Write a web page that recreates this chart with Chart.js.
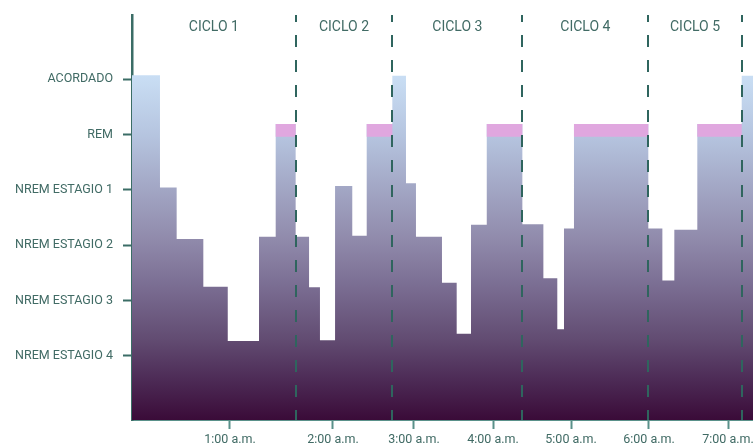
<!DOCTYPE html>
<html><head><meta charset="utf-8">
<script src="https://cdn.jsdelivr.net/npm/chart.js@4"></script>
<style>html,body{margin:0;padding:0;background:#fff;}canvas{display:block;}</style>
</head><body>
<canvas id="c" width="753" height="445"></canvas>
<script>
// ---- data ----
const stageLabels = ['NREM ESTAGIO 4','NREM ESTAGIO 3','NREM ESTAGIO 2','NREM ESTAGIO 1','REM','ACORDADO'];
const stageTicks = [1, 2, 3, 4, 5, 6];
// minutes since start of the night (illustration scale)
const segStart = [0,21.3,34.0,54.3,72.9,96.7,109.4,124.6,134.8,143.1,154.6,167.7,178.7,198.2,208.6,216.2,236.0,247.2,258.1,270.1,297.2,313.2,323.8,328.9,336.5,393.1,403.8,412.9,430.4,464.2];
const segLevel = [6.07,4.04,3.11,2.25,1.27,3.15,5.19,3.15,2.24,1.28,4.07,3.17,5.19,6.06,4.12,3.15,2.32,1.40,3.37,5.19,3.38,2.40,1.48,3.30,5.19,3.30,2.36,3.28,5.19,6.06];
const sleepEnd = 472.8;
const remStart = [109.4,178.7,270.1,336.5,430.4];
const remEnd   = [124.6,198.2,297.2,393.1,464.2];
const remLow = 4.96, remHigh = 5.19;
const cycleNames  = ['CICLO 1','CICLO 2','CICLO 3','CICLO 4','CICLO 5'];
const cycleBounds = [0,124.6,198.2,297.2,393.1,464.2];
const timeTicks  = [74.6,153.0,214.7,274.9,334.3,393.6,453.8];
const timeLabels = ['1:00 a.m.','2:00 a.m.','3:00 a.m.','4:00 a.m.','5:00 a.m.','6:00 a.m.','7:00 a.m.'];
const yMin = -0.16, yMax = 7.16;

// ---- build datasets ----
const hypno = segStart.map((x,i)=>({x:x, y:segLevel[i]}));
hypno.push({x:sleepEnd, y:segLevel[segLevel.length-1]});
const remMid = (remLow+remHigh)/2;
const remPts = [];
remStart.forEach((s,i)=>{
  remPts.push({x:s,y:remMid},{x:remEnd[i],y:remMid});
  if(i<remStart.length-1) remPts.push({x:(remEnd[i]+remStart[i+1])/2,y:null});
});

const TEAL='#3b6d66', TXT='#416b65';
const FONT='Roboto';

function gradientFill(ctx){
  const chart=ctx.chart, area=chart.chartArea;
  if(!area) return '#9590ae';
  const g=chart.ctx.createLinearGradient(0,area.top,0,area.bottom);
  g.addColorStop(0,'#d4e8fc');
  g.addColorStop(0.15,'#c9def4');
  g.addColorStop(0.30,'#b5c4df');
  g.addColorStop(0.43,'#a2a6c4');
  g.addColorStop(0.555,'#908aab');
  g.addColorStop(0.67,'#7a6d92');
  g.addColorStop(0.80,'#624c72');
  g.addColorStop(0.90,'#4d2b56');
  g.addColorStop(1,'#3a0b38');
  return g;
}

const cyclePlugin={
  id:'cycles',
  afterDatasetsDraw(chart){
    const {ctx, chartArea:a, scales:{x}}=chart;
    ctx.save();
    ctx.strokeStyle='#2f655e';
    ctx.lineWidth=2;
    ctx.setLineDash([12,13]);
    ctx.lineDashOffset=5;
    for(let i=1;i<cycleBounds.length;i++){
      const px=Math.round(x.getPixelForValue(cycleBounds[i]));
      ctx.beginPath();ctx.moveTo(px,a.top);ctx.lineTo(px,a.bottom);ctx.stroke();
    }
    ctx.setLineDash([]);
    ctx.fillStyle=TXT;
    ctx.font='14px '+FONT;
    ctx.textAlign='center';ctx.textBaseline='middle';
    for(let i=0;i<cycleNames.length;i++){
      const cx=(x.getPixelForValue(cycleBounds[i])+x.getPixelForValue(cycleBounds[i+1]))/2;
      ctx.fillText(cycleNames[i],cx,a.top+12);
    }
    ctx.restore();
  }
};

new Chart(document.getElementById('c'),{
  type:'line',
  data:{datasets:[
    {data:remPts, borderColor:'#e0a7df', backgroundColor:'#e0a7df', fill:false, spanGaps:false, pointRadius:0, borderCapStyle:'butt', order:0,
     borderWidth:(c)=>{const y=c.chart.scales&&c.chart.scales.y; return (y&&y.height)?Math.abs(y.getPixelForValue(remLow)-y.getPixelForValue(remHigh)):13;}},
    {data:hypno, stepped:'before', fill:'start', backgroundColor:gradientFill, borderWidth:0, borderColor:'rgba(0,0,0,0)', pointRadius:0, order:1}
  ]},
  options:{
    responsive:false, animation:false, devicePixelRatio:1,
    layout:{padding:{top:15,right:0,left:0,bottom:0}},
    plugins:{legend:{display:false},tooltip:{enabled:false}},
    scales:{
      x:{type:'linear', min:0, max:sleepEnd, z:1,
        afterBuildTicks:(s)=>{s.ticks=timeTicks.map(v=>({value:v}));},
        afterFit:(s)=>{s.height=25; s.paddingLeft=0; s.paddingRight=0;},
        ticks:{callback:(v,i)=>timeLabels[i], autoSkip:false, maxRotation:0, padding:3, color:TXT, font:{family:FONT,size:12.5}},
        grid:{drawOnChartArea:false, drawTicks:true, tickLength:9, tickColor:'#5a918a', tickWidth:2},
        border:{display:true, color:'#5a918a', width:2}
      },
      y:{type:'linear', min:yMin, max:yMax, z:1,
        afterBuildTicks:(s)=>{s.ticks=stageTicks.map(v=>({value:v}));},
        afterFit:(s)=>{s.width=132; s.paddingTop=0; s.paddingBottom=0;},
        ticks:{callback:(v,i)=>stageLabels[i], autoSkip:false, padding:10, color:TXT, font:{family:FONT,size:12.5}},
        grid:{drawOnChartArea:false, drawTicks:true, tickLength:9, tickColor:TEAL, tickWidth:2},
        border:{display:true, color:TEAL, width:2.5}
      }
    }
  },
  plugins:[cyclePlugin]
});
</script>
</body></html>
